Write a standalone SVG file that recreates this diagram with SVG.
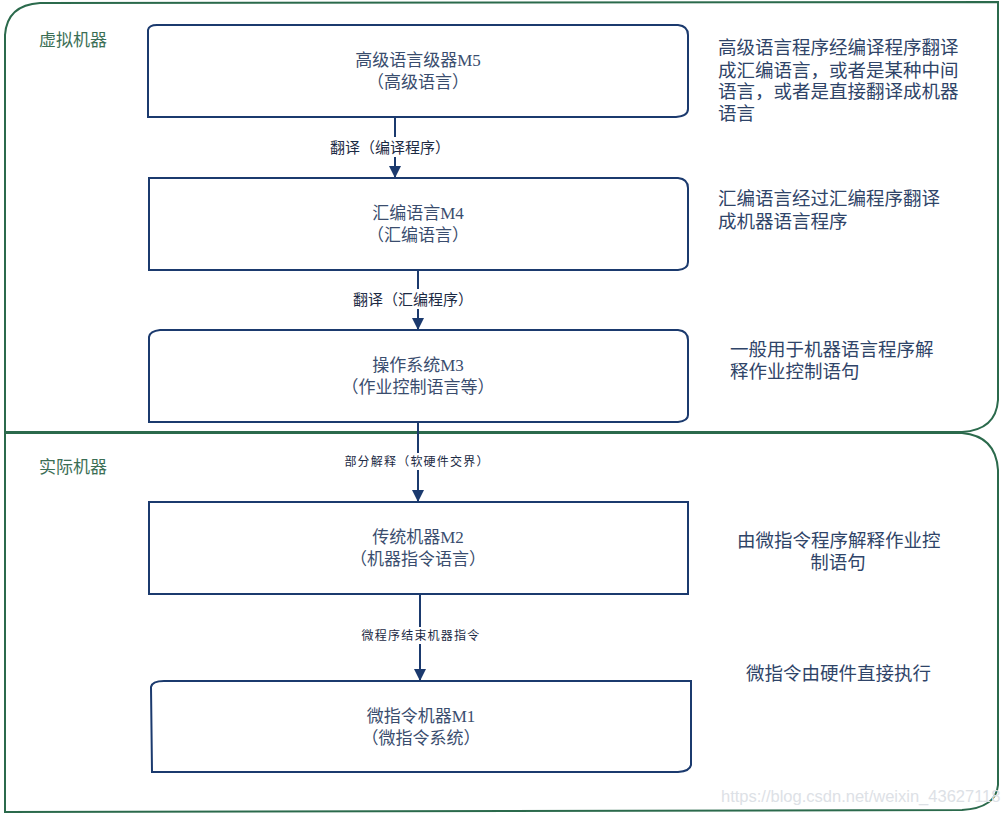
<svg xmlns="http://www.w3.org/2000/svg" width="1002" height="815" viewBox="0 0 1002 815">
<defs>
<marker id="arr" markerWidth="12" markerHeight="12" refX="12" refY="6" orient="auto" markerUnits="userSpaceOnUse"><path d="M0,0 L12,6 L0,12 Z" fill="#1b3a6e"/></marker>
<style>
.cont{fill:none;stroke:#2b6a4c;stroke-width:2}
.box{fill:#fff;stroke:#1b3a6e;stroke-width:2}
.nt{font-family:"Liberation Serif","Noto Sans CJK SC",serif;font-size:17px;fill:#3a4d6e;text-anchor:middle}
.side{font-family:"Liberation Serif","Noto Sans CJK SC",serif;font-size:18.5px;fill:#2f4468}
.sec{font-family:"Liberation Serif","Noto Sans CJK SC",serif;font-size:17px;fill:#3b6e55}
.lbl{font-family:"Liberation Sans","Noto Sans CJK SC",sans-serif;font-size:15px;fill:#1c2a44;text-anchor:middle}
.lbs{font-family:"Liberation Sans","Noto Sans CJK SC",sans-serif;font-size:12px;fill:#1c2a44;text-anchor:middle;letter-spacing:1.2px}
.edge{fill:none;stroke:#1b3a6e;stroke-width:2;marker-end:url(#arr)}
</style>
</defs>
<rect width="1002" height="815" fill="#fff"/>
<g id="virtual">
<path class="cont" d="M5,432 L5,35 Q7,5 40,3 L998,2 L998,400 Q996,430 962,432 Z"/>
<text class="sec" x="39" y="46">虚拟机器</text>
</g>
<g id="actual">
<path class="cont" d="M5,433 L962,433 Q996,436 998,470 L998,785 Q996,808 962,810 L5,812 Z"/>
<text class="sec" x="39" y="473">实际机器</text>
</g>
<g id="connectors">
<path class="edge" d="M395,117 L395,178"/>
<rect x="328" y="137" width="124" height="20" fill="#fff"/>
<text class="lbl" x="390" y="153">翻译（编译程序）</text>
<path class="edge" d="M418,270 L418,330"/>
<rect x="351" y="289" width="124" height="20" fill="#fff"/>
<text class="lbl" x="413" y="305">翻译（汇编程序）</text>
<path class="edge" d="M418,422 L418,502"/>
<rect x="344" y="453" width="146" height="17" fill="#fff"/>
<text class="lbs" x="417" y="466">部分解释（软硬件交界）</text>
<path class="edge" d="M420,594 L420,681"/>
<rect x="359" y="627" width="124" height="17" fill="#fff"/>
<text class="lbs" x="421" y="640">微程序结束机器指令</text>
</g>
<g id="m5">
<path class="box" d="M148,117 L148,30 Q149,25 157,25 L678,25 Q688,26 688,35 L688,109 Q688,116 676,117 Z"/>
<text class="nt" x="418" y="66">高级语言级器M5</text>
<text class="nt" x="418" y="88">（高级语言）</text>
</g>
<g id="m4">
<path class="box" d="M149,270 L149,178 L678,178 Q688,179 688,188 L688,262 Q688,269 678,270 Z"/>
<text class="nt" x="418" y="219">汇编语言M4</text>
<text class="nt" x="418" y="241">（汇编语言）</text>
</g>
<g id="m3">
<path class="box" d="M149,422 L149,337 Q150,331 160,330 L678,330 Q688,331 688,340 L688,415 Q688,421 678,422 Z"/>
<text class="nt" x="418" y="371">操作系统M3</text>
<text class="nt" x="418" y="393">（作业控制语言等）</text>
</g>
<g id="m2">
<path class="box" d="M149,594 L149,502 L688,502 L688,594 Z"/>
<text class="nt" x="418" y="543">传统机器M2</text>
<text class="nt" x="418" y="565">（机器指令语言）</text>
</g>
<g id="m1">
<path class="box" d="M152,772 L151,687 Q152,681 164,681 L691,681 L691,765 Q690,771 678,772 Z"/>
<text class="nt" x="421" y="722">微指令机器M1</text>
<text class="nt" x="421" y="744">（微指令系统）</text>
</g>
<g id="notes">
<text class="side" x="718" y="54">高级语言程序经编译程序翻译</text>
<text class="side" x="718" y="77">成汇编语言，或者是某种中间</text>
<text class="side" x="718" y="98">语言，或者是直接翻译成机器</text>
<text class="side" x="718" y="120">语言</text>
<text class="side" x="718" y="205">汇编语言经过汇编程序翻译</text>
<text class="side" x="718" y="228">成机器语言程序</text>
<text class="side" x="730" y="356">一般用于机器语言程序解</text>
<text class="side" x="730" y="378">释作业控制语句</text>
<text class="side" x="737" y="547">由微指令程序解释作业控</text>
<text class="side" x="838" y="569" text-anchor="middle">制语句</text>
<text class="side" x="746" y="680">微指令由硬件直接执行</text>
</g>
<text x="721" y="802" font-family="Liberation Sans, sans-serif" font-size="16.5" fill="#dde1e6">https://blog.csdn.net/weixin_43627118</text>
</svg>
